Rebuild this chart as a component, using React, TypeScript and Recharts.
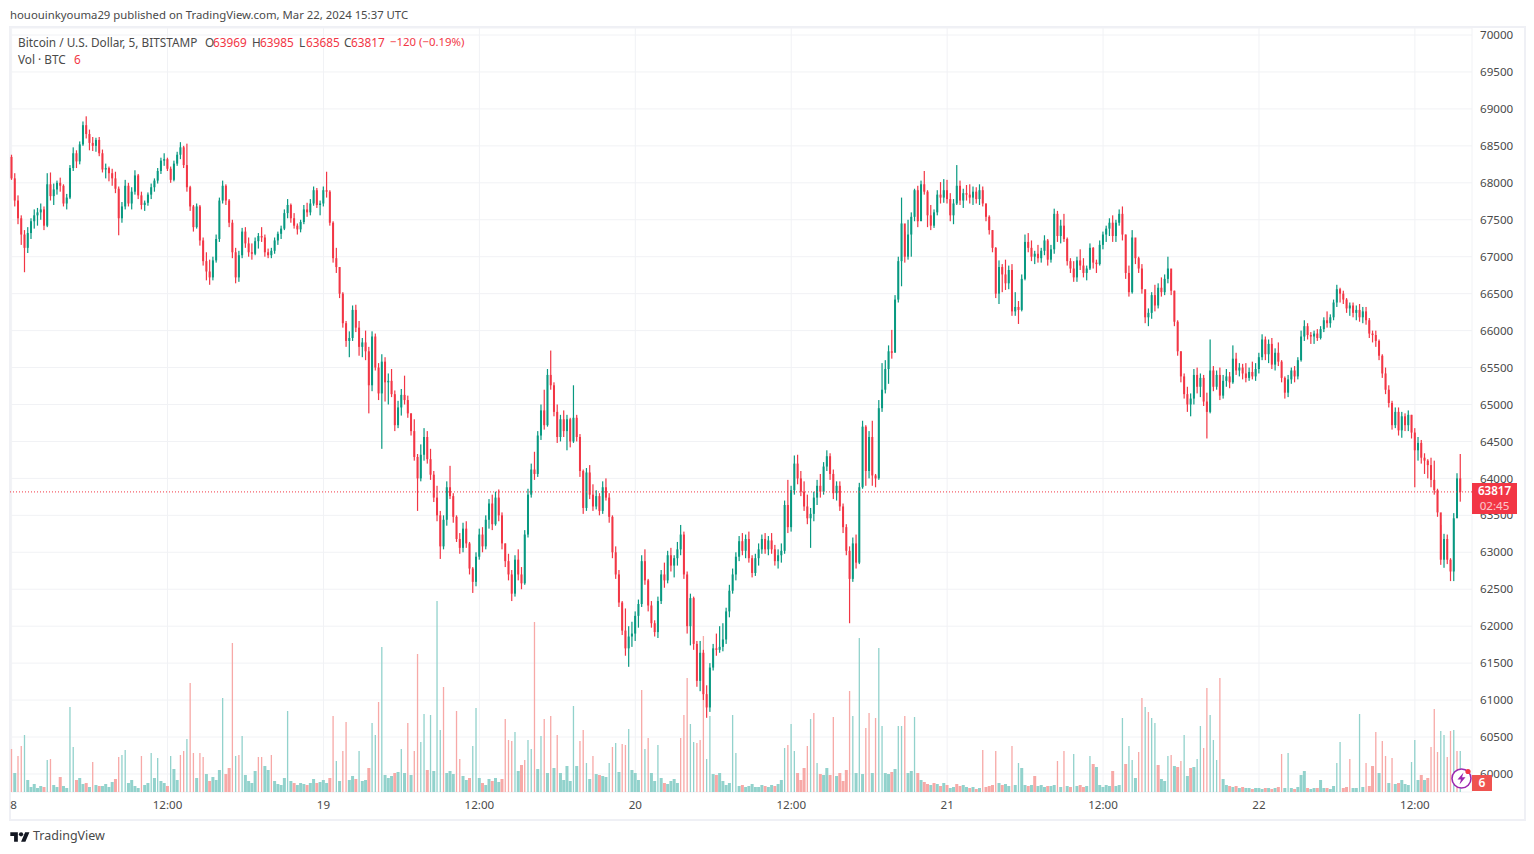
import React from "react";
import { ComposedChart, Bar, XAxis, YAxis, CartesianGrid, ReferenceLine } from "recharts";

// Each row is one 15-minute slot: [high, low, close, signed volume].
// A positive volume is a green volume bar, a negative one a red volume bar.
const firstOpen = 68350;
const lastPrice = 63817;

const day18Rows: number[][] = [
  [68380,68040,68060,-4.3],[68130,67680,67760,1.9],[67830,67440,67520,-3.6],[67560,67160,67300,-4.6],[67360,66790,67120,5.7],[67400,67050,67320,1.2],[67520,67240,67480,.5],[67640,67380,67560,.8],
  [67660,67420,67600,.4],[67720,67500,67640,.6],[67680,67360,67420,-.5],[68130,67400,67980,3.2],[68140,67760,67820,-3.3],[67990,67700,67910,.7],[68030,67840,68000,.5],[68070,67880,67960,-1.5],
  [67980,67680,67720,.6],[67850,67640,67800,.4],[68240,67780,68200,8.5],[68480,68160,68400,4.5],[68440,68200,68290,-1.2],[68560,68250,68520,1.4],[68830,68500,68780,.8],[68900,68600,68660,-.9],
  [68720,68440,68540,.5],[68620,68430,68500,-3.0],[68610,68420,68580,.7],[68620,68360,68400,-.6],[68450,68140,68180,.6],[68260,68060,68200,.8],[68220,68020,68130,.5],[68190,67960,68060,1.0],
  [68150,67860,67920,-1.3],[67950,67290,67520,-3.5],[67740,67460,67680,3.7],[68040,67640,67960,4.2],[68000,67680,67720,.9],[67940,67640,67880,1.2],[68170,67840,68100,.6],[68120,67780,67830,.4],
  [67880,67640,67700,-3.6],[67760,67620,67730,.7],[67870,67690,67840,.9],[67990,67780,67940,3.9],[68060,67880,68030,1.4],[68200,67990,68160,3.4],[68340,68120,68300,1.1],[68400,68230,68320,.9],
  [68340,68160,68190,-.6],[68220,68000,68040,3.6],[68300,68020,68260,2.3],[68420,68230,68380,1.2],[68550,68320,68480,-3.7],[68500,68200,68240,-4.1],[68530,67880,67940,5.3],[67960,67620,67680,-10.9],
  [67700,67340,67400,-3.9],[67720,67380,67680,1.4],[67700,67150,67220,-3.9],[67260,66880,66940,-3.5],[67060,66680,66800,1.8],[66960,66620,66720,-1.1],[67000,66680,66950,1.5],[67300,66920,67240,1.2],
  [67800,67200,67760,2.2],[68030,67720,67960,9.4],[67980,67700,67760,-1.8],[67780,67400,67460,-2.4],[67500,66980,67060,-14.9],[67120,66640,66720,3.6],[67080,66660,67020,-3.7],[67390,66980,67340,5.6],
  [67400,67120,67180,1.7],[67260,67000,67060,1.1],[67180,66960,67040,.9],[67260,67020,67210,2.1],[67320,67110,67280,-3.5],[67400,67200,67260,-3.5],[67300,67000,67060,2.6],[67110,66980,67020,2.2],
  [67120,66980,67080,-3.7],[67260,67040,67220,1.1],[67340,67160,67310,.8],[67420,67240,67380,.7],[67640,67360,67590,1.4],[67780,67520,67700,8.1],[67720,67460,67520,1.1],[67590,67380,67420,-.9],
  [67450,67300,67370,.7],[67500,67330,67470,.9],[67700,67440,67640,.8],[67730,67540,67600,-.7],[67780,67560,67720,.9],[67950,67690,67900,1.3],[67930,67660,67700,-.9],[67760,67560,67720,1.0],
];

const day19Rows: number[][] = [
  [67950,67680,67900,1.2],[68150,67800,67880,.9],[67900,67420,67460,-1.4],[67480,66920,66980,-7.6],[67120,66780,66860,3.1],[66860,66440,66500,1.1],[66520,66040,66100,-4.1],[66130,65780,65860,-7],
  [65990,65640,65900,1.2],[66340,65860,66280,1.6],[66350,65980,66040,-1.3],[66130,65660,65780,4.1],[65900,65640,65840,1.1],[66000,65600,65720,1.2],[65780,64880,65260,-2.4],[65990,65180,65920,6.9],
  [65960,65460,65500,5.7],[65560,65060,65150,-9],[65680,64400,65580,14.5],[65640,65040,65300,1.7],[65420,65000,65320,1.4],[65480,65100,65140,1.6],[65190,64640,64720,-1.9],[65050,64680,64960,2.0],
  [65210,64850,65130,4.3],[65390,65000,65060,1.9],[65120,64820,64880,-6.9],[64880,64580,64640,1.7],[64800,64240,64290,-4.1],[64330,63560,64000,-13.8],[64460,63960,64320,5],[64680,64240,64560,7.8],
  [64640,64200,64260,-2.2],[64400,63980,64050,7.7],[64100,63680,63740,2.1],[63900,63420,63500,19.1],[63560,62910,63080,6.2],[63500,63040,63440,-10.5],[63960,63360,63880,1.9],[64170,63720,63760,2.1],
  [63800,63400,63480,1.8],[63500,63140,63180,-8.1],[63260,62980,63060,-3.3],[63400,63000,63320,1.6],[63420,63060,63120,1.2],[63140,62700,62780,-1.4],[62800,62450,62600,4.6],[63000,62540,62940,8.4],
  [63320,62900,63240,1.4],[63340,63000,63080,-.9],[63500,63040,63440,.7],[63720,63320,63660,1.3],[63780,63300,63380,-1.1],[63820,63360,63740,1.4],[63850,63420,63500,1.0],[63540,63040,63120,-1.3],
  [63120,62800,62880,-7.3],[62980,62620,62700,-5.2],[62760,62340,62440,-5.1],[62960,62400,62900,6],[63040,62620,62700,2.1],[62800,62500,62580,-2.7],[63300,62560,63240,-3.2],[63860,63200,63780,5.2],
  [64200,63740,64120,4.3],[64360,63980,64060,-17],[64640,64020,64580,2.3],[65000,64520,64920,5.6],[65200,64660,64720,-7.3],[65480,64700,65400,1.9],[65730,65200,65260,-7.6],[65300,64840,64900,2.4],
  [65000,64480,64560,-5.7],[64860,64500,64800,1.9],[64920,64560,64640,1.2],[64860,64380,64800,2.6],[64820,64420,64500,1.1],[65260,64480,64820,8.6],[64860,64500,64560,2.6],[64600,64020,64100,-5.1],
  [64120,63520,63600,-6.2],[64140,63560,64080,2.9],[64180,63720,63780,1.3],[63920,63560,63620,-3.6],[63840,63580,63760,1.8],[63800,63500,63560,-1.7],[63960,63520,63880,1.6],[64000,63700,63740,1.5],
  [63800,63400,63480,2.9],[63500,62920,63000,-4.5],[63080,62640,62700,4.9],[62760,62260,62320,2.0],[62340,61880,61940,-4.8],[62240,61600,61700,-4.7],[62000,61450,61860,6.3],[62060,61720,61900,2.2],
];

const day20Rows: number[][] = [
  [62200,61800,62140,1.9],[62360,61980,62300,1.2],[62960,62260,62880,-10.2],[63040,62560,62620,4.3],[62640,62200,62280,-5.4],[62340,61980,62040,1.9],[62080,61860,61920,1.1],[62400,61840,62340,4.7],
  [62760,62300,62700,1.4],[62860,62520,62620,-.9],[63020,62580,62960,.8],[63060,62740,62820,1.1],[62960,62660,62920,1.3],[63140,62820,63040,.9],[63370,62960,63240,-5.4],[63280,62640,62700,-7.7],
  [62740,61900,62000,-11.4],[62440,61740,62380,6.8],[62400,61680,61760,5],[61800,61180,61260,-4.9],[61800,61120,61640,-5.2],[61680,61000,61080,-15.6],[61200,60760,60900,3.3],[61500,60840,61440,7.6],
  [61760,61400,61700,1.8],[61900,61600,61680,-1.7],[62000,61640,61720,1.9],[62040,61660,61820,1.1],[62250,61760,62200,.7],[62560,62120,62480,.9],[62780,62440,62700,7.7],[63000,62620,62940,3.9],
  [63220,62880,63150,.6],[63260,62960,63020,-.7],[63240,62920,63180,.5],[63280,62860,62920,.6],[62960,62660,62720,.8],[62980,62680,62920,.5],[63120,62820,63040,.5],[63240,62980,63180,.7],
  [63260,62980,63040,-.6],[63220,62960,63160,.5],[63260,62980,63040,.7],[63100,62820,62880,-.6],[63040,62780,62960,.8],[63120,62860,63020,1.2],[63700,62980,63640,4.4],[63980,63260,63340,-4.7],
  [63900,63280,63840,6.8],[64310,63780,64200,4.1],[64320,63920,64000,-1.9],[64100,63760,63820,-1.2],[63960,63560,63620,-2.4],[63780,63380,63460,-4.6],[63600,63060,63520,7.3],[63820,63420,63740,-7.9],
  [63980,63640,63900,2.9],[64060,63740,63820,-1.8],[64220,63780,64160,1.7],[64380,64100,64300,2.4],[64340,63980,64060,-1.7],[64120,63720,63800,-7.5],[63960,63700,63900,1.6],[63960,63560,63620,-1.9],
  [63660,63260,63340,-1.1],[63380,62960,63020,-2.2],[63080,62040,62640,-10.1],[63200,62600,63120,7.6],[63240,62780,62860,1.9],[63940,62840,63880,15.4],[64780,63860,64700,1.8],[64720,63900,64100,-6.4],
  [64640,64000,64560,-7.9],[64780,63900,64040,1.9],[64060,63880,64000,-7.4],[65060,63980,64950,14.4],[65560,64900,65200,6.6],[65600,65150,65480,1.9],[65800,65280,65720,1.8],[66010,65620,65700,-2.0],
  [66480,65840,66420,2.3],[67000,66380,66940,6.6],[67800,66600,67450,6.6],[67340,66920,67000,-7.6],[67500,66960,67300,1.9],[67600,67000,67540,2.1],[67920,67480,67900,7.5],[67960,67400,67480,-1.9],
  [68030,67500,67980,1.2],[68160,67840,67880,-1.0],[67900,67400,67560,-.8],[67700,67360,67420,.7],[67640,67390,67600,-.9],[67900,67560,67840,.8],[68010,67720,67800,-.6],[68050,67730,67900,.9],
];

const day21Rows: number[][] = [
  [68040,67720,67780,-.7],[67860,67480,67560,.4],[67780,67440,67720,.5],[68240,67700,67960,-.8],[68030,67700,67760,-.6],[67920,67660,67860,.7],[67970,67760,67840,.5],[67980,67720,67800,-.4],
  [67950,67700,67880,.5],[67940,67720,67780,-.3],[67980,67700,67900,.4],[67950,67680,67720,-4.2],[67720,67480,67540,-.5],[67560,67300,67360,-.6],[67360,67060,67120,-.7],[67130,66440,66500,-4.1],
  [66950,66360,66860,.9],[66900,66520,66760,-.7],[66960,66550,66640,.8],[66880,66560,66820,.6],[66900,66200,66260,-4.6],[66520,66200,66320,.7],[66400,66090,66280,2.9],[66760,66260,66700,2.4],
  [67300,66680,67200,.7],[67320,67060,67120,-.6],[67220,66940,67000,.7],[67080,66900,67040,-1.6],[67160,66920,66980,.6],[67120,66920,67080,.7],[67290,67020,67220,.5],[67240,66880,66960,-.6],
  [67160,66920,67100,.6],[67650,67040,67580,.7],[67620,67200,67280,-3.1],[67500,67180,67420,.5],[67580,67200,67240,-4.1],[67260,66880,66940,.6],[66980,66780,66840,-.5],[66940,66660,66720,3.8],
  [67000,66660,66950,.6],[67100,66820,66880,-.7],[66980,66720,66780,-.5],[66880,66680,66840,.6],[67180,66820,67120,3.6],[67130,66840,66920,-2.8],[66960,66780,66900,2.5],[67220,66880,67160,.7],
  [67340,67100,67300,.5],[67420,67200,67380,.7],[67520,67280,67460,.6],[67560,67200,67280,-2.1],[67500,67200,67460,.6],[67640,67420,67580,.7],[67680,67220,67300,7.4],[67300,66700,66780,-2.8],
  [66880,66460,66520,4.6],[67360,66500,67260,3.2],[67200,66900,66980,1.4],[67000,66780,66840,-4],[66900,66500,66560,-9.4],[66500,66100,66180,8.5],[66300,66060,66240,-8],[66520,66160,66480,7.4],
  [66620,66260,66340,6.9],[66640,66300,66580,-2.7],[66720,66460,66520,1.3],[66760,66480,66700,1.1],[67000,66640,66840,3.6],[66780,66480,66540,-3.7],[66540,66060,66120,2.6],[66140,65660,65720,-2.5],
  [65720,65300,65380,-3.1],[65420,65080,65140,5.7],[65240,64900,65000,1.6],[65150,64840,65080,-2.4],[65480,65000,65400,2.5],[65500,65150,65240,3.3],[65420,65100,65360,6.6],[65400,64980,65040,-4.4],
  [65160,64540,64900,-10.4],[65880,64880,65460,7.7],[65520,65180,65240,5.2],[65460,65200,65400,3.2],[65500,65060,65120,-11.4],[65400,65080,65320,1.3],[65480,65240,65380,.7],[65440,65220,65300,-.6],
  [65800,65280,65620,.5],[65700,65400,65460,-.6],[65560,65380,65500,.4],[65550,65340,65420,-.5],[65560,65300,65360,.4],[65500,65320,65440,.4],[65580,65340,65380,-.3],[65560,65320,65480,.4],
];

const day22Rows: number[][] = [
  [65700,65420,65640,.4],[65950,65600,65880,.3],[65920,65600,65680,-.4],[65880,65560,65820,.4],[65900,65480,65540,-.3],[65760,65460,65700,.4],[65840,65520,65580,-.5],[65600,65300,65360,-3.8],
  [65380,65080,65160,.4],[65400,65100,65340,3.9],[65500,65280,65460,.4],[65520,65300,65380,-.3],[65640,65340,65600,.5],[66000,65580,65920,1.7],[66140,65860,66060,2.1],[66100,65880,65940,-.4],
  [65980,65820,65920,.3],[66000,65820,65960,.4],[66020,65860,65900,-.4],[66060,65880,66020,1.2],[66180,65980,66140,.4],[66260,66040,66100,-.4],[66220,66040,66180,.3],[66420,66140,66380,.6],
  [66620,66320,66560,2.9],[66580,66380,66500,5],[66540,66360,66420,-.4],[66440,66240,66300,-.5],[66380,66200,66340,-3.3],[66380,66180,66240,.4],[66340,66140,66280,.4],[66360,66120,66180,7.8],
  [66320,66100,66260,.5],[66320,66080,66140,-2.9],[66170,65900,65960,-.6],[66000,65840,65940,-2.6],[66000,65780,65860,-6],[65880,65600,65660,1.9],[65680,65360,65420,-5.1],[65500,65140,65200,-3.6],
  [65260,64960,65020,.9],[65050,64660,64720,-3.4],[64960,64680,64900,.8],[64960,64580,64650,-.9],[64900,64550,64840,1.2],[64880,64640,64720,.8],[64920,64640,64860,.7],[64860,64540,64620,3],
  [64680,63880,64380,5.2],[64560,64240,64480,1.2],[64520,64200,64280,-1.7],[64340,64060,64240,1.2],[64260,64000,64180,-1.4],[64280,63880,63980,-4.5],[64240,63780,63840,-8.3],[63860,63480,63540,-4],
  [63370,62830,62900,6.1],[63250,62790,63180,5.7],[63240,62840,62900,-3.5],[62920,62610,62740,-6.1],[63530,62610,63460,6.2],[64070,63500,64000,-4.1],[64330,63685,63817,4.1],
];

const priceTicks = [60000,60500,61000,61500,62000,62500,63000,63500,64000,64500,65000,65500,66000,66500,67000,67500,68000,68500,69000,69500,70000];
const timeSlots = [0,48,96,144,192,240,288,336,384,432];
const timeLabels = ["8","12:00","19","12:00","20","12:00","21","12:00","22","12:00"];

const UP = "#089981";
const DOWN = "#f23645";
const VOL_UP = "#92d2cc";
const VOL_DOWN = "#f7a9a7";
const GRID = "#f1f2f5";
const TEXT = "#4a4a4a";
const FONT = "'Noto Sans', sans-serif";

const allRows = [...day18Rows, ...day19Rows, ...day20Rows, ...day21Rows, ...day22Rows];
const rows = allRows.map(([high, low, close, signedVolume], slot) => ({
  slot,
  high,
  low,
  close,
  open: slot === 0 ? firstOpen : allRows[slot - 1][2],
  range: [low, high],
  volume: Math.abs(signedVolume),
  volumeUp: signedVolume > 0,
}));

const Candle = (p: any) => {
  const { x, width, y, height, payload } = p;
  const { open, close, high, low } = payload;
  const cx = x + width / 2;
  const h = Math.abs(height);
  const at = (v: number) => y + ((high - v) / Math.max(1, high - low)) * h;
  const top = Math.min(at(open), at(close));
  const bodyH = Math.max(1, Math.abs(at(open) - at(close)));
  const color = close >= open ? UP : DOWN;
  return (
    <g>
      <rect x={cx - 0.6} y={y} width={1.2} height={h} fill={color} />
      <rect x={cx - 1} y={top} width={2} height={bodyH} fill={color} />
    </g>
  );
};

const VolumeBar = (p: any) => {
  const { x, width, y, height, payload } = p;
  const cx = x + width / 2;
  const w = height > 28 ? 1.3 : 3;
  return <rect x={cx - w / 2} y={y} width={w} height={height} fill={payload.volumeUp ? VOL_UP : VOL_DOWN} />;
};

const TimeTick = (p: any) => {
  const { x, y, payload } = p;
  const i = timeSlots.indexOf(payload.value);
  return (
    <text x={i === 0 ? x + 2 : x} y={y + 9} textAnchor="middle" fontSize={11.6} fontFamily={FONT} fill={TEXT}>
      {timeLabels[i]}
    </text>
  );
};

const Label = ({ x, y, color, children, size = 11.8 }: any) => (
  <span style={{ position: "absolute", left: x, top: y, color: color || TEXT, fontSize: size, fontFamily: FONT, lineHeight: "16px", whiteSpace: "nowrap" }}>
    {children}
  </span>
);

export default function App() {
  return (
    <div style={{ position: "absolute", left: 0, top: 0, width: 1534, height: 854, overflow: "hidden", background: "#fff" }}>
      <div style={{ position: "absolute", left: 9, top: 26, width: 1513, height: 791, border: "2px solid #eff0f5" }} />
      <div style={{ position: "absolute", left: 0, top: 0 }}>
        <ComposedChart width={1534} height={854} data={rows} margin={{ top: 28, right: 0, bottom: 32, left: 10 }} barCategoryGap={0}>
          <CartesianGrid stroke={GRID} strokeWidth={1} />
          <XAxis dataKey="slot" ticks={timeSlots} interval={0} height={30} axisLine={false} tickLine={false} tick={<TimeTick />} padding={{ left: 0, right: 10 }} />
          <XAxis xAxisId="volumeSlots" dataKey="slot" hide padding={{ left: 0, right: 10 }} />
          <YAxis orientation="right" width={62} domain={[59756, 70095]} ticks={priceTicks} interval={0} allowDataOverflow axisLine={false} tickLine={false} tickSize={0} tickMargin={8} tick={{ fontSize: 11.6, fontFamily: FONT, fill: TEXT }} />
          <YAxis yAxisId="volumeScale" hide domain={[0, 76.4]} />
          <Bar xAxisId="volumeSlots" yAxisId="volumeScale" dataKey="volume" shape={<VolumeBar />} isAnimationActive={false} />
          <Bar dataKey="range" shape={<Candle />} isAnimationActive={false} />
          <ReferenceLine y={lastPrice} stroke={DOWN} strokeDasharray="1 2" strokeWidth={1} />
        </ComposedChart>
      </div>

      <Label x={10} y={7} size={11.35}>hououinkyouma29 published on TradingView.com, Mar 22, 2024 15:37 UTC</Label>
      <Label x={18} y={34}>Bitcoin / U.S. Dollar, 5, BITSTAMP</Label>
      <Label x={205} y={34}>O</Label><Label x={213} y={34} color={DOWN}>63969</Label>
      <Label x={252} y={34}>H</Label><Label x={260} y={34} color={DOWN}>63985</Label>
      <Label x={299} y={34}>L</Label><Label x={306} y={34} color={DOWN}>63685</Label>
      <Label x={344} y={34}>C</Label><Label x={351} y={34} color={DOWN}>63817</Label>
      <Label x={390} y={34} color={DOWN} size={11.4}>−120 (−0.19%)</Label>
      <Label x={18} y={51}>Vol · BTC</Label><Label x={74} y={51} color={DOWN}>6</Label>

      <div style={{ position: "absolute", left: 1472, top: 483, width: 45, height: 31, background: DOWN, textAlign: "center", fontFamily: FONT, fontSize: 11.6, lineHeight: "15px", color: "#fff" }}>
        <div style={{ fontWeight: 600 }}>63817</div>
        <div style={{ opacity: 0.72 }}>02:45</div>
      </div>
      <div style={{ position: "absolute", left: 1472, top: 775, width: 20, height: 16, background: "#ef5350", textAlign: "center", fontFamily: FONT, fontSize: 12, lineHeight: "16px", color: "#fff", fontWeight: 600 }}>6</div>

      <svg style={{ position: "absolute", left: 1449, top: 766 }} width={26} height={24} viewBox="0 0 26 24">
        <circle cx={12.5} cy={12.5} r={9.5} fill="#fff" stroke="#9c27b0" strokeWidth={1.6} />
        <path d="M14.5 6.5 L8.5 13.5 L12 13.5 L10.5 18.5 L16.5 11.2 L13 11.2 Z" fill="#9c27b0" />
        <circle cx={19} cy={5.5} r={2.6} fill={DOWN} />
      </svg>

      <svg style={{ position: "absolute", left: 10, top: 830 }} width={20} height={14} viewBox="0 0 36 26">
        <path d="M14 22H7V11H0V4h14v18zM28 22h-8l7.5-18h8L28 22z" fill="#131722" />
        <circle cx={20} cy={8} r={4} fill="#131722" />
      </svg>
      <Label x={33} y={828} size={12.5}>TradingView</Label>
    </div>
  );
}
